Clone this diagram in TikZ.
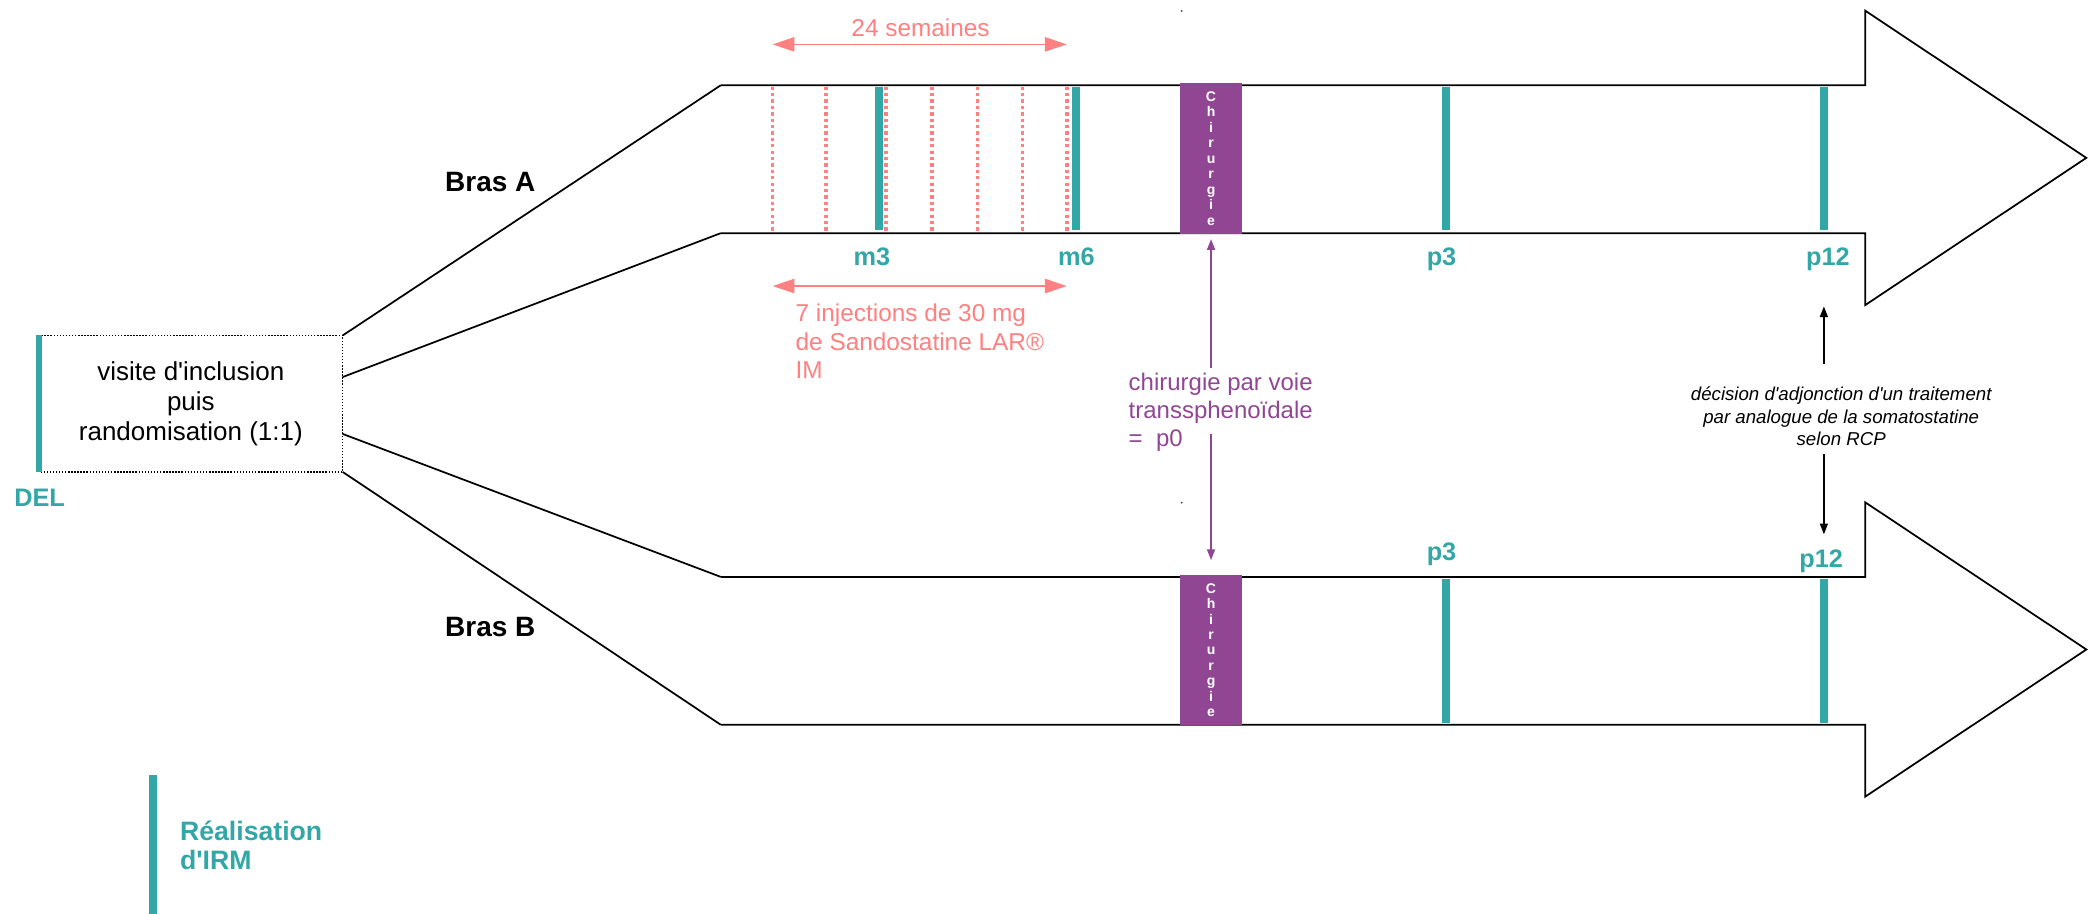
\documentclass[tikz,border=0pt]{standalone}
\usepackage{fontspec}
\setmainfont{Liberation Sans}
\newfontfamily\af{Liberation Sans}
\usetikzlibrary{arrows.meta}
\definecolor{mriteal}{RGB}{51,166,166}
\definecolor{surgpurple}{RGB}{145,70,148}
\definecolor{injpink}{RGB}{255,128,128}
\begin{document}
\begin{tikzpicture}[x=1pt,y=-1pt,
  every node/.style={inner sep=0pt},
  arm/.style={line width=1.3pt, black, line join=miter},
  mribar/.style={mriteal, line width=5.8pt},
  injline/.style={injpink, line width=2.5pt, dash pattern=on 2.5pt off 2.3pt},
  dotbox/.style={black, line width=1.1pt, dash pattern=on 1.1pt off 1.2pt},
  delbar/.style={mriteal, line width=5pt},
  inclbox/.style={minimum width=227.5pt, minimum height=102pt, align=center,
    font=\af\fontsize{19.5}{22.5}\selectfont},
  surgbox/.style={fill=surgpurple, draw=none, minimum width=46pt, minimum height=112.8pt,
    text=white, align=center, font=\af\fontsize{10.5}{11.6}\selectfont\bfseries},
  mrilabel/.style={text=mriteal, font=\af\fontsize{19}{22}\selectfont\bfseries},
  armlabel/.style={text=black, font=\af\fontsize{21}{24}\selectfont\bfseries},
  injtext/.style={text=injpink, font=\af\fontsize{18.3}{21.25}\selectfont},
  injarrow/.style={injpink, line width=1pt,
    {Triangle[length=16.3pt,width=10.8pt]}-{Triangle[length=16.3pt,width=10.8pt]}},
  surgtext/.style={text=surgpurple, align=left, font=\af\fontsize{18}{21}\selectfont},
  surgarrow/.style={surgpurple, line width=1pt, -{Triangle[length=8pt,width=6pt]}},
  decision/.style={text=black, align=center, font=\af\fontsize{14}{17}\selectfont\itshape},
  decarrow/.style={black, line width=1pt, -{Triangle[length=8pt,width=6pt]}},
  legendtext/.style={text=mriteal, align=left, font=\af\fontsize{20}{22}\selectfont\bfseries}
]
\useasboundingbox (0,0) rectangle (1568,686);

% ---- arm A shape
\coordinate (aTL) at (541,64);
\coordinate (aTR) at (1400,64);
\coordinate (aHT) at (1400,8);
\coordinate (aTip) at (1566,118.5);
\coordinate (aHB) at (1400,229);
\coordinate (aBR) at (1400,175);
\coordinate (aBL) at (541,175);
\draw[arm] (aTL) -- (aTR) -- (aHT) -- (aTip) -- (aHB) -- (aBR) -- (aBL);

% ---- arm B shape
\coordinate (bTL) at (541,433);
\coordinate (bTR) at (1400,433);
\coordinate (bHT) at (1400,377);
\coordinate (bTip) at (1566,487.5);
\coordinate (bHB) at (1400,598);
\coordinate (bBR) at (1400,544);
\coordinate (bBL) at (541,544);
\draw[arm] (bTL) -- (bTR) -- (bHT) -- (bTip) -- (bHB) -- (bBR) -- (bBL);

% ---- inclusion box
\node[inclbox] (incl) at (143.25,303) {visite d'inclusion\\puis\\randomisation (1:1)};
\draw[dotbox] (incl.north west) rectangle (incl.south east);
\draw[delbar] (incl.north west) -- (incl.south west);
\node[mrilabel, anchor=base west] (del) at (10.5,380.3) {DEL};

\draw[arm] (incl.north east) -- (aTL);
\draw[arm] ([yshift=20pt]incl.east) -- (aBL);
\draw[arm] ([yshift=-22.7pt]incl.east) -- (bTL);
\draw[arm] (incl.south east) -- (bBL);

% ---- arm labels
\node[armlabel, anchor=base] (brasA) at (368,144) {Bras A};
\node[armlabel, anchor=base] (brasB) at (368,478) {Bras B};

% ---- injections (dotted)
\foreach \x in {580,620,665,699.5,733.5,767.5,801}
  \draw[injline] (\x,65) -- (\x,174);

% ---- MRI bars
\foreach \x in {660,807.6,1085.4,1369}
  \draw[mribar] (\x,65.5) -- (\x,173);
\foreach \x in {1085.4,1369}
  \draw[mribar] (\x,434.5) -- (\x,542.5);

% ---- MRI labels
\node[mrilabel, anchor=base] (m3) at (654.5,199.3) {m3};
\node[mrilabel, anchor=base] (m6) at (808,199.3) {m6};
\node[mrilabel, anchor=base] (p3A) at (1082,199.3) {p3};
\node[mrilabel, anchor=base] (p12A) at (1372,199.3) {p12};
\node[mrilabel, anchor=base] (p3B) at (1082,421) {p3};
\node[mrilabel, anchor=base] (p12B) at (1367,426) {p12};

% ---- surgery boxes
\node[surgbox] (surgA) at (909,118.9) {C\\h\\i\\r\\u\\r\\g\\i\\e};
\node[surgbox] (surgB) at (909,488) {C\\h\\i\\r\\u\\r\\g\\i\\e};

% ---- 24 weeks
\coordinate (wkL) at (580,33.3);
\coordinate (wkR) at (800.6,33.3);
\draw[injarrow] (wkL) -- (wkR);
\node[injtext, anchor=base] (wk) at (691,27.2) {24 semaines};

% ---- injections
\coordinate (injL) at (580,214.7);
\coordinate (injR) at (800.6,214.7);
\draw[injarrow] (injL) -- (injR);
\node[injtext, anchor=west, align=left] (inj) at (597,256.2) {7 injections de 30 mg\\de Sandostatine LAR®\\IM};

% ---- surgery note
\node[surgtext, anchor=west] (surgnote) at (847,309.3) {chirurgie par voie\\transsphenoïdale\\=\ \ p0};
\coordinate (sUp) at (909,276);
\coordinate (sDn) at (909,326);
\draw[surgarrow] (sUp) -- ([yshift=-4pt]surgA.south);
\draw[surgarrow] (sDn) -- ([yshift=11pt]surgB.north);

% ---- decision note
\node[decision] (dec) at (1382,312.5) {décision d'adjonction d'un traitement\\par analogue de la somatostatine\\selon RCP};
\coordinate (dUp) at (1369,273);
\coordinate (dUpTip) at (1369,230);
\coordinate (dDn) at (1369,341);
\coordinate (dDnTip) at (1369,401);
\draw[decarrow] (dUp) -- (dUpTip);
\draw[decarrow] (dDn) -- (dDnTip);

% ---- stray marks
\fill[black!70] (887,8.3) circle (0.8);
\fill[black!70] (887,377.3) circle (0.8);

% ---- legend
\draw[mribar, line width=5.5pt] (114.75,581.7) -- (114.75,686);
\node[legendtext, anchor=west] (leg) at (135,634.5) {Réalisation\\d'IRM};
\end{tikzpicture}
\end{document}
